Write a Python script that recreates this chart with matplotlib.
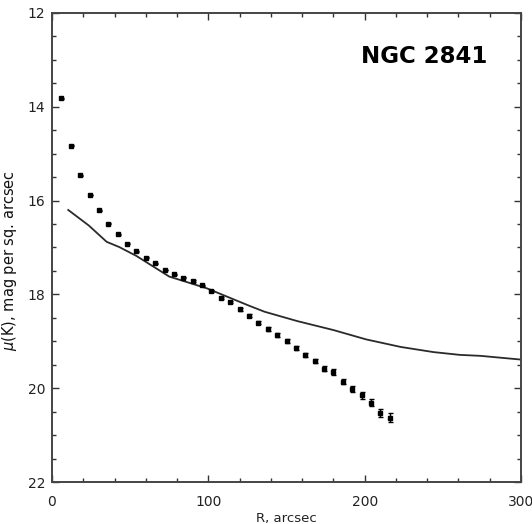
import matplotlib
matplotlib.use("Agg")
import matplotlib.pyplot as plt
import numpy as np

# measured surface brightness profile (points with error bars)
r_obs = [6, 12, 18, 24, 30, 36, 42, 48, 54, 60,
         66, 72, 78, 84, 90, 96, 102, 108, 114, 120, 126,
         132, 138, 144, 150, 156, 162, 168, 174, 180, 186,
         192, 198, 204, 210, 216]
mu_obs = [13.82, 14.83, 15.46, 15.88, 16.21, 16.49, 16.72, 16.92, 17.08, 17.22,
          17.34, 17.48, 17.57, 17.64, 17.71, 17.81, 17.93, 18.07, 18.17, 18.32, 18.45,
          18.60, 18.74, 18.87, 18.99, 19.14, 19.29, 19.42, 19.58, 19.66, 19.86,
          20.02, 20.15, 20.31, 20.52, 20.63]
mu_err = [0.01, 0.01, 0.01, 0.01, 0.01, 0.01, 0.01, 0.01, 0.01, 0.01,
          0.01, 0.01, 0.01, 0.015, 0.015, 0.015, 0.02, 0.02, 0.02, 0.025, 0.03,
          0.03, 0.035, 0.04, 0.04, 0.045, 0.05, 0.05, 0.055, 0.06, 0.06,
          0.065, 0.07, 0.075, 0.085, 0.095]

# model curve
r_mod = [10.4, 23.5, 35, 43, 54, 75, 99, 126, 136, 157, 180, 201, 223, 244, 261, 274, 300]
mu_mod = [16.20, 16.53, 16.88, 16.99, 17.18, 17.62, 17.87, 18.24, 18.37, 18.57,
          18.76, 18.96, 19.12, 19.23, 19.29, 19.31, 19.39]

fig = plt.figure(figsize=(5.32, 5.24), dpi=100)
ax = fig.add_axes([52/532, 1-482/524, 469/532, 469/524])

ax.plot(r_mod, mu_mod, color="#2a2a2a", lw=1.3)
ax.errorbar(r_obs, mu_obs, yerr=mu_err, fmt="s", ms=2.5, color="black",
            ecolor="black", elinewidth=1.0, capsize=1.8, capthick=1.0)

ax.set_xlim(0, 300)
ax.set_ylim(22, 12)
ax.set_xticks([0, 100, 200, 300])
ax.set_xticks(np.arange(0, 301, 20), minor=True)
ax.set_yticks([12, 14, 16, 18, 20, 22])
ax.set_yticks(np.arange(12, 22.01, 0.5), minor=True)

ax.tick_params(which="both", direction="in", top=True, right=True, width=1.0, color="#333333",
               labelsize=10, labelcolor="#222222")
ax.tick_params(which="major", length=5)
ax.tick_params(which="minor", length=3)
ax.tick_params(axis="x", pad=9)
ax.tick_params(axis="y", pad=5)
for s in ax.spines.values():
    s.set_linewidth(1.4)
    s.set_color("#444444")

ax.set_xlabel("R, arcsec", fontsize=9.5, color="#222222")
ax.xaxis.set_label_coords(0.5, -0.063)
ax.set_ylabel(r"$\mu$(K), mag per sq. arcsec", fontsize=10.5, color="#111111")
ax.yaxis.set_label_coords(-0.071, 0.473)

ax.text(0.794, 0.908, "NGC 2841", transform=ax.transAxes, ha="center", va="center",
        fontsize=16.5, fontweight="bold", family="DejaVu Sans")

fig.savefig("out.png", dpi=100)
